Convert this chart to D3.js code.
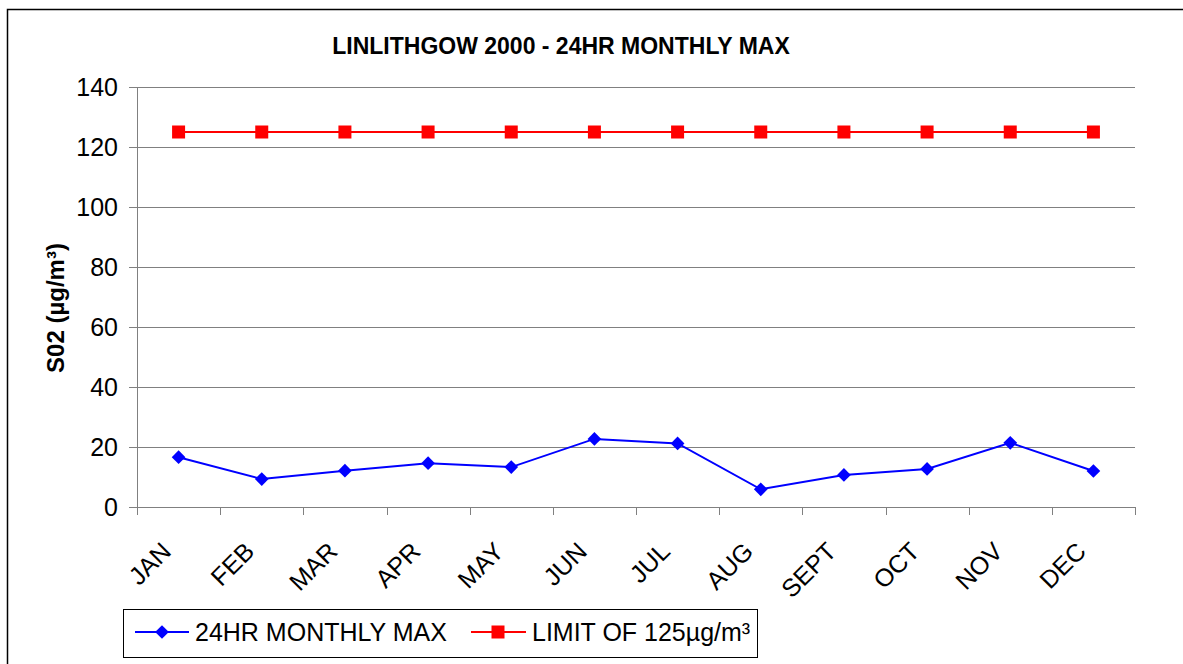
<!DOCTYPE html>
<html>
<head>
<meta charset="utf-8">
<script src="https://cdn.jsdelivr.net/npm/d3@7"></script>
<style>
  html, body { margin: 0; padding: 0; background: #fff; }
  svg { display: block; font-family: Arial, "Liberation Sans", sans-serif; }
</style>
</head>
<body>
<svg id="chart" width="1183" height="664"></svg>
<script>
// Monthly SO2 data, Linlithgow 2000
const months = ["JAN", "FEB", "MAR", "APR", "MAY", "JUN", "JUL", "AUG", "SEPT", "OCT", "NOV", "DEC"];
const monthlyMax = [16.6, 9.3, 12.1, 14.6, 13.3, 22.7, 21.2, 5.9, 10.7, 12.7, 21.4, 12.0];
const limitValues = [125, 125, 125, 125, 125, 125, 125, 125, 125, 125, 125, 125];
const yTicks = [0, 20, 40, 60, 80, 100, 120, 140];

const chartTitle = "LINLITHGOW 2000 - 24HR MONTHLY MAX";
const yTitle = "S02 (µg/m³)";
const seriesNames = ["24HR MONTHLY MAX", "LIMIT OF 125µg/m³"];

const svg = d3.select("#chart");
const plot = { left: 137, right: 1135, top: 87, bottom: 507 };

const x = d3.scaleBand().domain(months).range([plot.left, plot.right]);
const y = d3.scaleLinear().domain([0, 140]).range([plot.bottom, plot.top]);
const cx = m => x(m) + x.bandwidth() / 2;

// outer chart frame
svg.append("rect")
  .attr("x", 7.5).attr("y", 9.5)
  .attr("width", 1200).attr("height", 700)
  .attr("fill", "none").attr("stroke", "#000").attr("stroke-width", 1.5);

// title
svg.append("text")
  .attr("x", 561).attr("y", 54)
  .attr("text-anchor", "middle")
  .attr("font-size", 23).attr("font-weight", "bold")
  .text(chartTitle);

// horizontal gridlines
svg.append("g")
  .selectAll("line")
  .data(yTicks.filter(d => d > 0))
  .join("line")
  .attr("x1", plot.left).attr("x2", plot.right)
  .attr("y1", d => Math.round(y(d)) + 0.5).attr("y2", d => Math.round(y(d)) + 0.5)
  .attr("stroke", "#808080").attr("stroke-width", 1);

// y axis
const yAxis = svg.append("g")
  .attr("transform", `translate(${plot.left},0)`)
  .call(d3.axisLeft(y).tickValues(yTicks).tickSize(8).tickPadding(11).tickFormat(d3.format("d")));
yAxis.select(".domain").attr("stroke", "#808080");
yAxis.selectAll(".tick line").attr("stroke", "#808080");
yAxis.selectAll(".tick text")
  .attr("font-size", 25).attr("fill", "#000")
  .attr("font-family", "Arial, 'Liberation Sans', sans-serif");

// x axis with boundary ticks between categories
const xAxis = svg.append("g").attr("transform", `translate(0,${plot.bottom})`);
xAxis.append("line")
  .attr("x1", plot.left).attr("x2", plot.right)
  .attr("y1", 0.5).attr("y2", 0.5)
  .attr("stroke", "#808080");
const boundaries = months.map(m => x(m)).concat([plot.right]);
xAxis.selectAll("line.tk")
  .data(boundaries)
  .join("line").attr("class", "tk")
  .attr("x1", d => Math.round(d) + 0.5).attr("x2", d => Math.round(d) + 0.5)
  .attr("y1", 0).attr("y2", 8)
  .attr("stroke", "#808080");
xAxis.selectAll("text")
  .data(months)
  .join("text")
  .attr("transform", d => `translate(${cx(d) - 6},46) rotate(-45)`)
  .attr("text-anchor", "end")
  .attr("font-size", 25)
  .text(d => d);

// y axis title
svg.append("text")
  .attr("transform", "translate(64,308) rotate(-90)")
  .attr("text-anchor", "middle")
  .attr("font-size", 24).attr("font-weight", "bold")
  .text(yTitle);

// series lines
const line = d3.line().x((d, i) => cx(months[i])).y(d => y(d));

svg.append("path")
  .datum(limitValues)
  .attr("d", line)
  .attr("fill", "none").attr("stroke", "#ff0000").attr("stroke-width", 2);
svg.append("g")
  .selectAll("rect")
  .data(limitValues)
  .join("rect")
  .attr("x", (d, i) => cx(months[i]) - 6.5)
  .attr("y", d => y(d) - 6.5)
  .attr("width", 13).attr("height", 13)
  .attr("fill", "#ff0000");

svg.append("path")
  .datum(monthlyMax)
  .attr("d", line)
  .attr("fill", "none").attr("stroke", "#0000ff").attr("stroke-width", 2);
const diamond = d3.symbol().type(d3.symbolDiamond2).size(120);
svg.append("g")
  .selectAll("path")
  .data(monthlyMax)
  .join("path")
  .attr("d", diamond)
  .attr("transform", (d, i) => `translate(${cx(months[i])},${y(d)})`)
  .attr("fill", "#0000ff");

// legend
const legend = svg.append("g");
legend.append("rect")
  .attr("x", 123.5).attr("y", 609.5)
  .attr("width", 634).attr("height", 48)
  .attr("fill", "#fff").attr("stroke", "#000").attr("stroke-width", 1);
const ly = 632;
// first entry
legend.append("line").attr("x1", 135).attr("x2", 189).attr("y1", ly).attr("y2", ly)
  .attr("stroke", "#0000ff").attr("stroke-width", 2);
legend.append("path").attr("d", diamond)
  .attr("transform", `translate(162,${ly})`).attr("fill", "#0000ff");
legend.append("text").attr("x", 195).attr("y", ly + 9)
  .attr("font-size", 25).text(seriesNames[0]);
// second entry
legend.append("line").attr("x1", 471).attr("x2", 526).attr("y1", ly).attr("y2", ly)
  .attr("stroke", "#ff0000").attr("stroke-width", 2);
legend.append("rect").attr("x", 491.5).attr("y", ly - 6.5).attr("width", 13).attr("height", 13)
  .attr("fill", "#ff0000");
legend.append("text").attr("x", 532).attr("y", ly + 9)
  .attr("font-size", 25).text(seriesNames[1]);
</script>
</body>
</html>
